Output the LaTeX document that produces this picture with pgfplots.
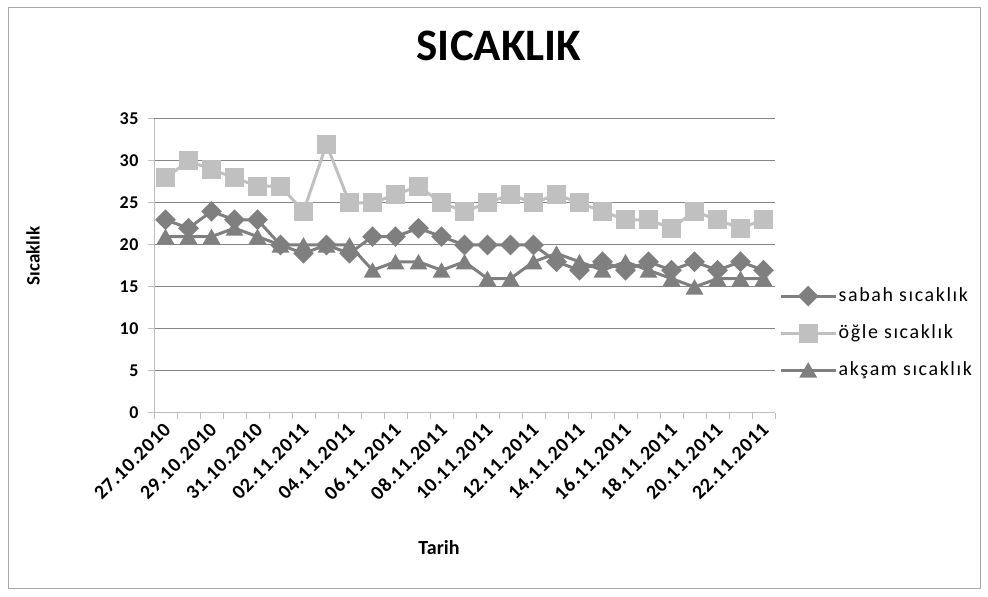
\documentclass[border=0pt]{standalone}
\usepackage{pgfplots}
\usepackage{pgfplotstable}
\pgfplotsset{compat=1.18}
\usepackage{fontspec}
\setmainfont{Carlito}
\newfontfamily\legfont[LetterSpace=8.0]{Carlito}
\newfontfamily\tickfont[LetterSpace=4.0]{Carlito}
\definecolor{dk}{RGB}{127,127,127}
\definecolor{lt}{RGB}{192,192,192}
\definecolor{grd}{RGB}{134,134,134}
\definecolor{axl}{RGB}{190,190,190}
\definecolor{frm}{RGB}{170,170,170}

\pgfplotstableread{
i sabah ogle aksam
0 23 28 21
1 22 30 21
2 24 29 21
3 23 28 22
4 23 27 21
5 20 27 20
6 19 24 20
7 20 32 20
8 19 25 20
9 21 25 17
10 21 26 18
11 22 27 18
12 21 25 17
13 20 24 18
14 20 25 16
15 20 26 16
16 20 25 18
17 18 26 19
18 17 25 18
19 18 24 17
20 17 23 18
21 18 23 17
22 17 22 16
23 18 24 15
24 17 23 16
25 18 22 16
26 17 23 16
}\data

\begin{document}
\begin{tikzpicture}[x=1pt,y=1pt]
\useasboundingbox (0,0) rectangle (988,597);
\draw[frm, line width=1pt] (8,8) rectangle (980,589);
\node[font=\fontsize{45}{52}\selectfont\bfseries] at (499,551) {SICAKLIK};
\node[rotate=90, font=\fontsize{19}{22}\selectfont\bfseries] at (33,341) {Sıcaklık};
\node[font=\fontsize{20}{24}\selectfont\bfseries] at (439,49) {Tarih};
\begin{axis}[
  at={(154pt,184pt)}, anchor=south west, scale only axis,
  width=621pt, height=294pt,
  xmin=-0.5, xmax=26.5, ymin=0, ymax=35,
  axis lines*=left, axis line style={-, axl, line width=1pt},
  ytick={0,5,...,35},
  ymajorgrids, grid style={grd, line width=1pt},
  tick align=outside, major tick length=6pt,
  tick style={axl, line width=1pt},
  xtick={-0.5,0.5,...,26.5}, xticklabels={},
  extra x ticks={0,2,...,26},
  extra x tick labels={27.10.2010,29.10.2010,31.10.2010,02.11.2011,04.11.2011,06.11.2011,08.11.2011,10.11.2011,12.11.2011,14.11.2011,16.11.2011,18.11.2011,20.11.2011,22.11.2011},
  extra x tick style={major tick length=0pt, grid=none,
    xticklabel style={xshift=-3pt, yshift=-7pt, rotate=45, anchor=north east, inner sep=1pt,
      font=\fontsize{20}{22}\selectfont\tickfont\bfseries}},
  yticklabel style={font=\fontsize{18}{20}\selectfont\tickfont\bfseries, xshift=-6pt},
  /pgf/number format/assume math mode=true,
  legend style={at={(1,0.272)}, anchor=west, xshift=4pt, draw=none, fill=none,
    font=\fontsize{20}{24}\selectfont\legfont, inner sep=0pt, row sep=16pt,
    nodes={inner sep=1.5pt, text height=14pt, text depth=4pt, anchor=west}},
  legend cell align=left,
  legend image code/.code={\draw[mark repeat=2,mark phase=2,#1] plot coordinates {(0pt,0pt) (27.5pt,0pt) (55pt,0pt)};},
]
\addplot[dk, line width=3pt, mark=square*, mark size=5.8pt, mark options={rotate=45, solid}] table[x=i, y=sabah] {\data};
\addlegendentry{sabah sıcaklık}
\addplot[lt, line width=3pt, mark=square*, mark size=8pt, mark options={solid}] table[x=i, y=ogle] {\data};
\addlegendentry{öğle sıcaklık}
\addplot[dk, line width=3pt, mark=triangle*, mark size=7.3pt, mark options={solid, yshift=-2.4pt}] table[x=i, y=aksam] {\data};
\addlegendentry{akşam sıcaklık}
\end{axis}
\end{tikzpicture}
\end{document}
